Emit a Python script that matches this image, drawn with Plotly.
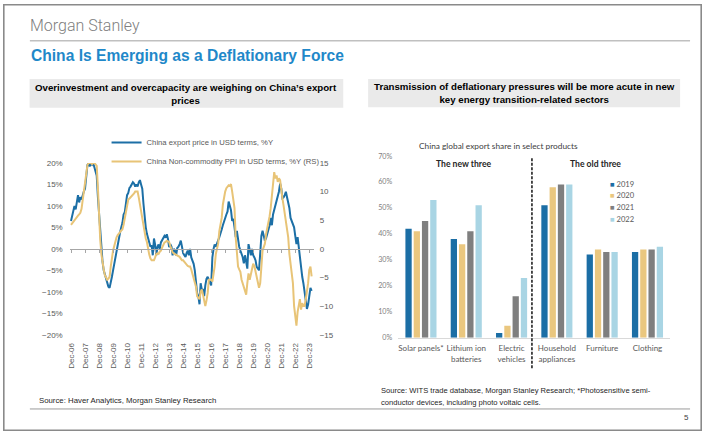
import pandas as pd
import plotly.graph_objects as go

W, H = 702, 436


def fx(x):
    return x / W


def fy(y):
    return 1 - y / H


# ---------------- Left chart data (monthly, from Dec-06) ----------------
export_price = [
    6.5, 8.0, 8.8, 10.0, 9.2, 11.0, 12.5, 10.8, 12.0, 11.5, 12.6, 13.4,
    14.0, 16.5, 19.5, 20.0, 19.2, 20.0, 19.6, 20.0, 19.0, 18.2, 17.0, 12.0,
    8.0, 4.0, 0.5, -3.0, -5.0, -6.0, -6.8, -8.4, -8.8, -9.1, -8.0, -6.5,
    -5.0, -3.4, -1.5, -0.2, 1.1, 2.5, 3.8, 5.0, 6.0, 8.0, 8.5, 10.5,
    12.5, 13.0, 14.2, 14.5, 15.0, 15.5, 15.2, 14.5, 15.0, 14.5, 15.5, 16.0,
    15.0, 14.0, 10.5, 7.0, 5.0, 3.5, 2.5, 2.0, 0.5, 0.8, -1.5, 2.4,
    1.0, -1.5, 0.5, 1.0, 0.0, 1.5, 2.0, 2.5, 3.0, 2.6, 3.4, 2.3,
    0.4, 1.1, 0.5, -1.5, 0.0, -0.5, -1.5, 0.2, 0.5, 1.1, 1.9, 0.5,
    -1.0, -1.5, -1.9, -1.0, -0.4, -1.5, 0.0, -2.0, -2.7, -3.5, -5.0, -8.0,
    -10.3, -11.0, -12.9, -8.0, -9.5, -9.5, -11.0, -8.5, -7.0, -6.5, -7.5, -8.0,
    -8.5, -2.0, 0.0, 1.0, 0.5, 1.5, 2.0, 2.7, 3.4, 4.5, 5.5, 6.5,
    7.5, 8.0, 8.7, 11.0, 10.0, 9.0, 6.5, 7.0, 5.0, 2.7, 4.2, 1.9,
    0.5, -0.4, -1.0, -1.9, -3.4, -1.5, -3.0, -4.6, 1.1, -0.5, -1.5, 0.0,
    -1.5, -2.0, -2.7, -4.2, -4.5, -5.0, -1.0, 3.0, 4.2, 2.5, 1.9, 2.5,
    3.4, 4.2, 5.5, 7.2, 5.5, 8.0, 9.0, 10.3, 11.0, 12.0, 13.3, 15.2,
    14.1, 11.8, 12.0, 12.5, 13.3, 12.0, 11.0, 9.5, 7.2, 6.5, 5.7, 5.0,
    3.0, 1.1, 2.7, 0.4, -2.7, -4.5, -6.5, -8.0, -10.5, -13.0, -14.0, -13.0,
    -10.3, -9.1, -9.8,
]

non_commodity_ppi = [
    4.2, 4.5, 4.8, 5.1, 5.3, 5.6, 5.8, 6.0, 6.3, 7.0, 8.6, 10.0,
    11.7, 13.0, 14.6, 15.0, 15.0, 15.0, 14.8, 15.0, 15.0, 14.8, 14.5, 10.6,
    5.5, 1.5, -1.0, -2.6, -3.6, -4.6, -5.0, -5.4, -5.2, -4.9, -3.1, -1.5,
    -0.3, 0.5, 1.4, 2.0, 2.4, 2.6, 2.9, 3.2, 3.4, 4.2, 5.2, 6.0,
    7.0, 8.6, 8.8, 9.0, 9.1, 9.4, 9.7, 10.0, 10.0, 10.0, 9.0, 7.7,
    6.5, 5.0, 3.8, 2.5, 1.8, 1.2, -0.3, -1.0, -1.7, -2.0, -2.0, -2.0,
    -1.5, -0.9, -0.8, -0.9, -0.5, -0.3, 0.2, 0.6, 1.1, 1.2, 1.4, 1.3,
    1.2, 0.5, -0.3, -0.6, -0.8, -0.9, -1.0, -1.1, -1.2, -1.4, -1.7, -2.0,
    -2.0, -2.3, -2.6, -2.9, -3.0, -3.1, -3.1, -3.6, -4.3, -5.0, -5.5, -6.6,
    -8.3, -8.6, -8.8, -7.5, -7.1, -8.0, -9.0, -10.0, -9.0, -7.7, -5.4, -5.4,
    -5.4, -5.7, -4.5, -3.1, -0.9, 0.2, 0.9, 3.1, 4.5, 5.4, 7.7, 9.4,
    10.0, 10.6, 10.8, 11.1, 11.0, 11.3, 10.0, 8.5, 7.1, 2.0, -0.9, -3.1,
    -3.6, -4.0, -5.4, -6.0, -6.6, -7.1, -8.0, -6.0, -4.3, -5.4, -4.5, -3.5,
    -2.6, -3.0, -4.0, -5.4, -6.2, -6.8, -6.0, -2.6, -0.3, 0.3, 0.9, 2.6,
    3.5, 4.3, 5.7, 7.1, 9.0, 12.0, 13.4, 12.3, 12.8, 11.7, 12.3, 12.0,
    10.0, 8.8, 7.5, 6.0, 4.8, 3.2, 2.0, -0.9, -2.6, -3.7, -6.0, -10.0,
    -12.0, -13.4, -11.0, -9.5, -8.8, -10.6, -9.5, -10.0, -10.0, -8.8, -7.5, -6.0,
    -3.7, -3.1, -4.8,
]

dates = pd.date_range("2006-12-01", periods=len(export_price), freq="MS")
tick_dates = pd.date_range("2006-12-01", "2023-12-01", freq="12MS")
tick_text = [d.strftime("Dec-%y") for d in tick_dates]

# ---------------- Right chart data ----------------
products = ["Solar panels*", "Lithium ion<br>batteries", "Electric<br>vehicles",
            "Household<br>appliances", "Furniture", "Clothing"]
years = ["2019", "2020", "2021", "2022"]
share_2019 = [42, 38, 1.8, 51, 32, 33]
share_2020 = [41, 36, 4.6, 58, 34, 34]
share_2021 = [45, 41, 16, 59, 33, 34]
share_2022 = [53, 51, 23, 59, 33, 35]
shares = [share_2019, share_2020, share_2021, share_2022]
bar_colors = ["#1b6ea5", "#eac77f", "#7f7f7f", "#a9d5e4"]

BLUE = "#1c6fa6"
GOLD = "#e8c477"
AX = "#595959"
ARIAL = "Liberation Sans"
CAL = "Lato"

fig = go.Figure()

fig.add_trace(go.Scatter(
    x=dates, y=non_commodity_ppi, xaxis="x", yaxis="y2", mode="lines",
    line=dict(color=GOLD, width=2),
    name="China Non-commodity PPI in USD terms, %Y (RS)", legendrank=2,
))
fig.add_trace(go.Scatter(
    x=dates, y=export_price, xaxis="x", yaxis="y", mode="lines",
    line=dict(color=BLUE, width=2),
    name="China export price in USD terms, %Y", legendrank=1,
))

for yr, vals, col in zip(years, shares, bar_colors):
    fig.add_trace(go.Bar(
        x=products, y=vals, name=yr, marker=dict(color=col, line=dict(width=0)),
        xaxis="x2", yaxis="y3", showlegend=False,
    ))

x_range = [pd.Timestamp("2006-10-28"), pd.Timestamp("2024-03-25")]

annotations = [
    dict(text="Morgan Stanley", x=fx(25), y=fy(22), font=dict(family="Roboto", size=16, color="#808080", weight=300)),
    dict(text="<b>China Is Emerging as a Deflationary Force</b>", x=fx(26), y=fy(53),
         font=dict(family=ARIAL, size=15.6, color="#1f88c9")),
    dict(text="<b>Overinvestment and overcapacity are weighing on China’s export<br>prices</b>",
         x=fx(184.2), y=fy(91.5), xanchor="center", align="center",
         font=dict(family=ARIAL, size=9.7, color="#000000")),
    dict(text="<b>Transmission of deflationary pressures will be more acute in new<br>key energy transition-related sectors</b>",
         x=fx(523.3), y=fy(91.2), xanchor="center", align="center",
         font=dict(family=ARIAL, size=9.7, color="#000000")),
    dict(text="China global export share in select products", x=fx(498), y=fy(145), xanchor="center",
         font=dict(family=CAL, size=8.3, color="#404040")),
    dict(text="<b>The new three</b>", x=fx(462.5), y=fy(163.5), xanchor="center",
         font=dict(family=CAL, size=8.6, color="#262626")),
    dict(text="<b>The old three</b>", x=fx(595.5), y=fy(163.5), xanchor="center",
         font=dict(family=CAL, size=8.6, color="#262626")),
    dict(text="Source: Haver Analytics, Morgan Stanley Research", x=fx(34), y=fy(405),
         font=dict(family=ARIAL, size=7.8, color="#262626")),
    dict(text="Source: WITS trade database, Morgan Stanley Research; *Photosensitive semi-",
         x=fx(378), y=fy(395), font=dict(family=ARIAL, size=7.6, color="#262626")),
    dict(text="conductor devices, including photo voltaic cells.",
         x=fx(378), y=fy(407), font=dict(family=ARIAL, size=7.6, color="#262626")),
    dict(text="5", x=fx(686), y=fy(422), xanchor="center",
         font=dict(family=ARIAL, size=8, color="#404040")),
]
for i, (yr, col) in enumerate(zip(years, bar_colors)):
    annotations.append(dict(
        text=f"<span style='color:{col}'>■</span> {yr}", x=fx(608), y=fy(183.5 + 12 * i),
        font=dict(family=CAL, size=7.6, color=AX)))
for a in annotations:
    a.setdefault("xref", "paper")
    a.setdefault("yref", "paper")
    a.setdefault("xanchor", "left")
    a.setdefault("yanchor", "middle")
    a.setdefault("showarrow", False)

shapes = [
    dict(type="rect", xref="paper", yref="paper", x0=fx(0.8), x1=fx(701.2), y0=fy(435.2), y1=fy(0.8),
         line=dict(color="#8a8a8a", width=1.6)),
    dict(type="line", xref="paper", yref="paper", x0=fx(27), x1=fx(690), y0=fy(37.5), y1=fy(37.5),
         line=dict(color="#c0c0c0", width=1.5)),
    dict(type="rect", xref="paper", yref="paper", x0=fx(26.7), x1=fx(341.7), y0=fy(106), y1=fy(76.5),
         fillcolor="#eaeaea", line=dict(width=0), layer="below"),
    dict(type="rect", xref="paper", yref="paper", x0=fx(366.7), x1=fx(680), y0=fy(105.5), y1=fy(76.5),
         fillcolor="#eaeaea", line=dict(width=0), layer="below"),
    dict(type="line", xref="paper", yref="paper", x0=fx(27), x1=fx(690), y0=fy(413.5), y1=fy(413.5),
         line=dict(color="#9a9a9a", width=1)),
    dict(type="line", xref="x2", yref="paper", x0=2.45, x1=2.45, y0=fy(372), y1=fy(156),
         line=dict(color="#000000", width=1.4, dash="3px,1.5px")),
]

tick_font = dict(family=ARIAL, size=8, color=AX)

fig.update_layout(
    width=W, height=H, margin=dict(l=0, r=0, t=0, b=0),
    paper_bgcolor="white", plot_bgcolor="rgba(0,0,0,0)",
    font=dict(family=ARIAL, color=AX),
    showlegend=True,
    legend=dict(x=fx(104), y=fy(126.5), xanchor="left", yanchor="top", bgcolor="rgba(0,0,0,0)",
                font=dict(family=ARIAL, size=7.7, color=AX), tracegroupgap=0),
    xaxis=dict(domain=[fx(67), fx(312)], anchor="free", position=fy(250), range=x_range,
               showline=True, linecolor="#a6a6a6", linewidth=1, ticks="outside", ticklen=3,
               tickcolor="#a6a6a6", tickvals=tick_dates, ticktext=tick_text, tickangle=-90,
               tickfont=tick_font, ticklabelstandoff=87,
               showgrid=False, zeroline=False),
    yaxis=dict(domain=[fy(337.7), fy(162.3)], anchor="x", range=[-20, 20], dtick=5, ticksuffix="%",
               showgrid=False, zeroline=False, showline=False, tickfont=tick_font,
               ticklabelstandoff=6),
    yaxis2=dict(overlaying="y", side="right", anchor="x", range=[-15, 15], dtick=5,
                showgrid=False, zeroline=False, showline=False, tickfont=tick_font,
                ticklabelstandoff=5),
    xaxis2=dict(domain=[fx(397), fx(670)], anchor="y3", type="category", showline=True,
                linecolor="#d9d9d9", linewidth=1, ticks="", showgrid=False,
                tickfont=dict(family=CAL, size=8, color=AX), ticklabelstandoff=3),
    yaxis3=dict(domain=[fy(340.7), fy(155.2)], anchor="x2", range=[0, 70], dtick=10, ticksuffix="%",
                showgrid=False, zeroline=False, showline=False,
                tickfont=dict(family=CAL, size=7.2, color="#7f7f7f"), ticklabelstandoff=5),
    barmode="group", bargap=0.27, bargroupgap=0.24,
    annotations=annotations, shapes=shapes,
)

fig.write_html("out.html", config={"displayModeBar": False},
               post_script="document.body.style.margin='0';")
